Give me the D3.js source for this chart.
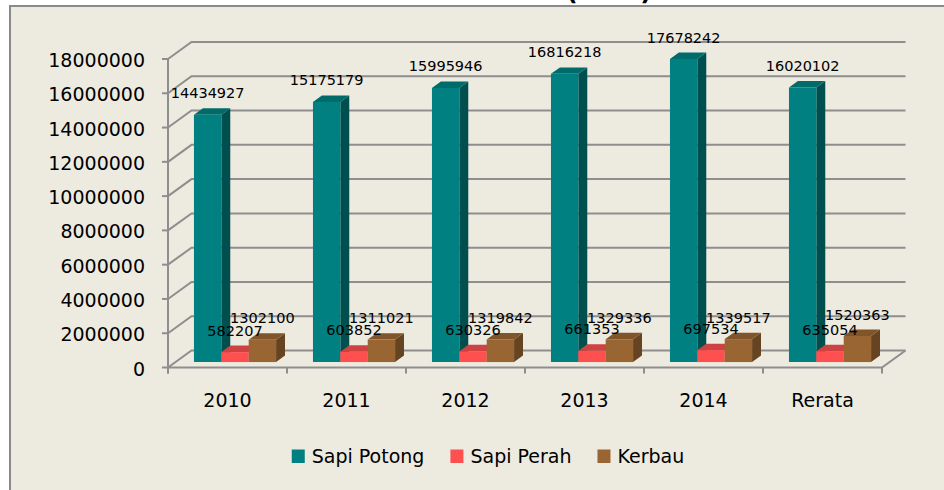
<!DOCTYPE html>
<html>
<head>
<meta charset="utf-8">
<script src="https://cdn.jsdelivr.net/npm/d3@7"></script>
<style>
  html, body { margin: 0; padding: 0; background: #ffffff; }
  svg { display: block; }
  text { font-family: "DejaVu Sans", sans-serif; fill: #000; }
</style>
</head>
<body>
<svg id="chart" width="944" height="490"></svg>
<script>
// ---- data ----
const categories = ["2010", "2011", "2012", "2013", "2014", "Rerata"];
const seriesNames = ["Sapi Potong", "Sapi Perah", "Kerbau"];
const sapiPotong = [14434927, 15175179, 15995946, 16816218, 17678242, 16020102];
const sapiPerah  = [582207, 603852, 630326, 661353, 697534, 635054];
const kerbau     = [1302100, 1311021, 1319842, 1329336, 1339517, 1520363];
const yTicks = [0, 2000000, 4000000, 6000000, 8000000, 10000000, 12000000, 14000000, 16000000, 18000000];
const titleText = "(ekor)";

const seriesValues = [sapiPotong, sapiPerah, kerbau];
const colors = [
  {front: "#008080", top: "#006b6b", side: "#004f4f"},
  {front: "#ff5050", top: "#cf4242", side: "#b03838"},
  {front: "#996633", top: "#80552a", side: "#664422"}
];

const svg = d3.select("#chart");

// frame
svg.append("rect").attr("x", 10).attr("y", 6).attr("width", 960).attr("height", 500)
  .attr("fill", "#EDEAE0").attr("stroke", "#8a8a8a").attr("stroke-width", 2);

// title (mostly outside the picture at top, as in the reference)
svg.append("text").attr("x", 609).attr("y", 0).attr("text-anchor", "middle")
  .attr("font-weight", "bold").attr("font-size", 25).text(titleText);

// scales
const x = d3.scaleBand().domain(categories).range([168, 882]).paddingInner(0).paddingOuter(0);
const y = d3.scaleLinear().domain([0, 18000000]).range([367.5, 59]);
const DX = 23.5, DY = -17;       // depth offset of back wall
const Z0 = 0.32, Z1 = 0.70;      // bar depth range
const gap = 0.155;
const xs = d3.scaleBand().domain(seriesNames)
  .range([0, 1]).paddingInner(0).paddingOuter(0);
const proj = (px, v, z) => [px + z * DX, y(v) + z * DY];

const grid = svg.append("g").attr("fill", "none").attr("stroke", "#8e8e8e").attr("stroke-width", 2);
// gridlines (side wall + back wall)
yTicks.forEach(t => {
  const p = [[168, y(t)], [168 + DX, y(t) + DY], [882 + DX, y(t) + DY]];
  grid.append("path").attr("d", d3.line()(p));
});
// floor front edge + right edge
grid.append("path").attr("d", d3.line()([[168, y(0)], [882, y(0)], [882 + DX, y(0) + DY]]));
// value axis line
grid.append("path").attr("d", d3.line()([[168, y(18000000)], [168, y(0) + 6]]));
// value ticks
yTicks.forEach(t => {
  grid.append("path").attr("d", d3.line()([[162, y(t)], [168, y(t)]]));
});
// category ticks
d3.range(categories.length + 1).forEach(i => {
  const px = 168 + i * x.bandwidth();
  grid.append("path").attr("d", d3.line()([[px, y(0)], [px, y(0) + 6]]));
});

// y tick labels
svg.append("g").selectAll("text").data(yTicks).join("text")
  .attr("x", 145).attr("y", d => y(d) + 8).attr("text-anchor", "end")
  .attr("font-size", 19).text(d => d3.format("d")(d));

// category labels
svg.append("g").selectAll("text").data(categories).join("text")
  .attr("x", d => x(d) + x.bandwidth() / 2).attr("y", 406.5).attr("text-anchor", "middle")
  .attr("font-size", 19).text(d => d);

// bars
const bars = svg.append("g");
const labels = [];
categories.forEach((c, ci) => {
  const bw = x.bandwidth();
  const inner0 = x(c) + gap * bw, innerW = bw * (1 - 2 * gap);
  seriesNames.forEach((s, si) => {
    const v = seriesValues[si][ci];
    const xl = inner0 + xs(s) * innerW;
    const xr = xl + xs.bandwidth() * innerW;
    const col = colors[si];
    const fbl = proj(xl, 0, Z0), fbr = proj(xr, 0, Z0);
    const ftl = proj(xl, v, Z0), ftr = proj(xr, v, Z0);
    const btl = proj(xl, v, Z1), btr = proj(xr, v, Z1), bbr = proj(xr, 0, Z1);
    const g = bars.append("g");
    g.append("path").attr("d", d3.line()([fbr, ftr, btr, bbr]) + "Z").attr("fill", col.side);
    g.append("path").attr("d", d3.line()([ftl, ftr, btr, btl]) + "Z").attr("fill", col.top);
    g.append("path").attr("d", d3.line()([fbl, ftl, ftr, fbr]) + "Z").attr("fill", col.front);
    labels.push({x: (ftl[0] + ftr[0]) / 2, y: ftl[1] - 16.5, text: String(v)});
  });
});

// data labels
svg.append("g").selectAll("text").data(labels).join("text")
  .attr("x", d => d.x).attr("y", d => d.y).attr("text-anchor", "middle")
  .attr("font-size", 14.5).text(d => d.text);

// legend
const legend = svg.append("g");
const items = seriesNames.map((n, i) => {
  const g = legend.append("g");
  g.append("rect").attr("x", 0).attr("y", -13.5).attr("width", 13).attr("height", 13.5).attr("fill", colors[i].front);
  const t = g.append("text").attr("x", 20).attr("y", 0).attr("font-size", 19).text(n);
  return {g, w: 20 + t.node().getComputedTextLength()};
});
const spacing = 26;
const totalW = d3.sum(items, d => d.w) + spacing * (items.length - 1);
let cx = 488 - totalW / 2;
items.forEach(it => {
  it.g.attr("transform", `translate(${cx},463)`);
  cx += it.w + spacing;
});
</script>
</body>
</html>
